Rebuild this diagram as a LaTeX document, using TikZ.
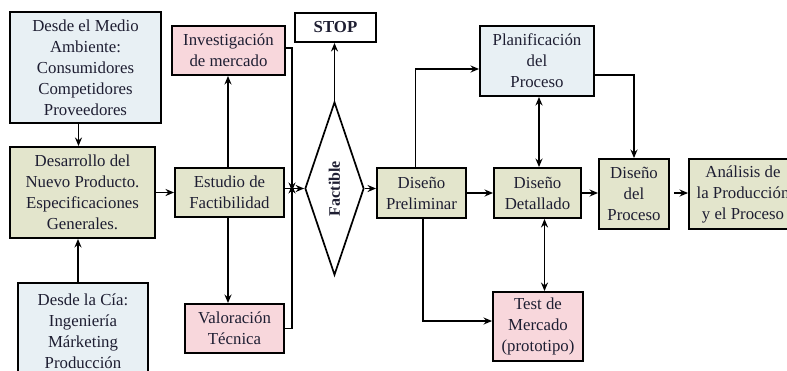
\documentclass[tikz,border=0pt]{standalone}
\usepackage{fontspec}
\setmainfont{Liberation Serif}
\usetikzlibrary{arrows.meta,shapes.geometric,calc}
\definecolor{bluef}{RGB}{232,240,244}
\definecolor{olivef}{RGB}{227,229,204}
\definecolor{pinkf}{RGB}{248,215,220}
\definecolor{txt}{RGB}{30,30,50}
\tikzset{
  box/.style={draw=black,line width=1.9pt,inner sep=0pt,align=center,text=txt,
    font=\fontsize{16.8}{21}\selectfont},
  arr/.style={line width=1.7pt,-{Stealth[length=8.5pt,width=7pt]}},
  darr/.style={line width=1.7pt,{Stealth[length=8.5pt,width=7pt]}-{Stealth[length=8.5pt,width=7pt]}},
  ln/.style={line width=1.7pt}
}
\begin{document}
\begin{tikzpicture}[x=1pt,y=-1pt]
\useasboundingbox (0,0) rectangle (787,370);
\clip (0,0) rectangle (787,370);
\fill[white] (0,0) rectangle (787,370);
% nodes
\node[box,fill=bluef,minimum width=151pt,minimum height=111pt] (ma) at (85.5,67.5)
  {Desde el Medio\\Ambiente:\\Consumidores\\Competidores\\Proveedores};
\node[box,fill=olivef,minimum width=145pt,minimum height=91pt] (des) at (82.5,192.5)
  {Desarrollo del\\Nuevo Producto.\\Especificaciones\\Generales.};
\node[box,fill=bluef,minimum width=130pt,minimum height=96pt,text depth=0pt] (cia) at (83,331)
  {Desde la C\'ia:\\Ingenier\'ia\\M\'arketing\\Producci\'on};
\node[box,fill=pinkf,minimum width=113pt,minimum height=49pt] (inv) at (228.5,50.5)
  {Investigaci\'on\\de mercado};
\node[box,fill=olivef,minimum width=109pt,minimum height=49pt] (est) at (229.5,192.5)
  {Estudio de\\Factibilidad};
\node[box,fill=pinkf,minimum width=99pt,minimum height=49pt] (val) at (234.5,328.5)
  {Valoraci\'on\\T\'ecnica};
\node[box,fill=white,minimum width=81pt,minimum height=29pt,font=\fontsize{16.8}{21}\selectfont\bfseries] (stop) at (335.5,27.5)
  {STOP};
\node[draw=black,line width=1.7pt,diamond,minimum width=59pt,minimum height=173pt,inner sep=0pt,fill=white] (fac) at (334.5,188.5) {};
\node[rotate=90,text=txt,font=\fontsize{16}{20}\selectfont\bfseries] (factxt) at (fac.center) {Factible};
\node[box,fill=olivef,minimum width=89pt,minimum height=50pt] (pre) at (421.5,193)
  {Dise\~no\\Preliminar};
\node[box,fill=bluef,minimum width=114pt,minimum height=70pt] (pla) at (537,61)
  {Planificaci\'on\\del\\Proceso};
\node[box,fill=olivef,minimum width=87pt,minimum height=50pt] (det) at (537.5,193)
  {Dise\~no\\Detallado};
\node[box,fill=olivef,minimum width=70pt,minimum height=70pt] (dpr) at (634,194)
  {Dise\~no\\del\\Proceso};
\node[box,fill=olivef,minimum width=108pt,minimum height=70pt] (ana) at (743,194)
  {An\'alisis de\\la Producci\'on\\y el Proceso};
\node[box,fill=pinkf,minimum width=90pt,minimum height=69pt] (test) at (538,326.5)
  {Test de\\Mercado\\(prototipo)};
% junction coordinates
\coordinate (jx) at (292,189);
% connectors
\draw[arr] ([xshift=-7pt]ma.south) -- ([xshift=-7pt]ma.south |- des.north);
\draw[arr] ([xshift=-5pt]cia.north) -- ([xshift=-5pt]cia.north |- des.south);
\draw[arr] (des.east) -- (est.west);
\draw[arr] ([xshift=-1.5pt]est.north) -- ([xshift=-1.5pt]est.north |- inv.south);
\draw[arr] ([xshift=-1.5pt]est.south) -- ([xshift=-1.5pt]est.south |- val.north);
\draw[arr] ([yshift=2.5pt]inv.east) -| ([yshift=-2pt]jx);
\draw[arr] (val.east) -| ([yshift=4pt]jx);
\draw[arr] (est.east |- fac.west) -- (fac.west);
\draw[arr] (fac.north) -- (fac.north |- stop.south);
\draw[arr] (fac.east) -- (fac.east -| pre.west);
\draw[arr] ([xshift=-6pt]pre.north) |- ([yshift=-8pt]pla.west);
\draw[arr] ([yshift=-14pt]pla.east) -| (dpr.north);
\draw[darr] ([xshift=2pt]pla.south) -- ([xshift=2pt]pla.south |- det.north);
\draw[arr] (pre.east) -- (det.west);
\draw[arr] (det.east) -- (det.east -| dpr.west);
\draw[arr] ([xshift=4pt]dpr.east |- det.east) -- (ana.west |- det.east);
\draw[darr] ([xshift=7pt]det.south) -- ([xshift=7pt]det.south |- test.north);
\draw[arr] ([xshift=1.5pt]pre.south) |- ([yshift=5.5pt]test.west);
\end{tikzpicture}
\end{document}
